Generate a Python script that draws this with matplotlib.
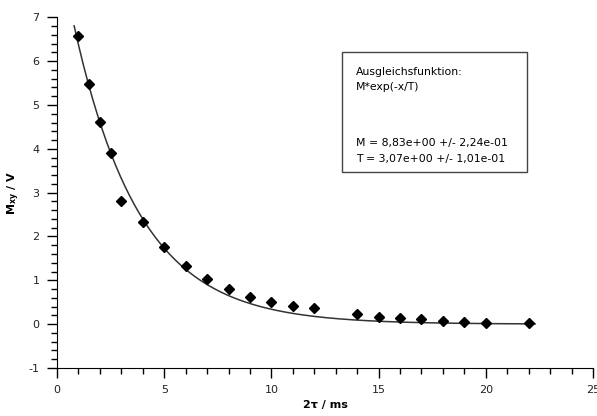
import numpy as np
import matplotlib
matplotlib.use('Agg')
import matplotlib.pyplot as plt
from matplotlib.ticker import MultipleLocator
from matplotlib.patches import Rectangle

# Messpunkte
tau2 = [1, 1.5, 2, 2.5, 3, 4, 5, 6, 7, 8, 9, 10, 11, 12, 14, 15, 16, 17, 18, 19, 20, 22]
mxy = [6.58, 5.48, 4.62, 3.91, 2.81, 2.34, 1.76, 1.32, 1.02, 0.80, 0.61, 0.50, 0.41, 0.36,
       0.24, 0.17, 0.13, 0.11, 0.08, 0.05, 0.03, 0.03]

# Fitparameter der Ausgleichsfunktion
M_fit = 8.83
T_fit = 3.07
x_fit = np.linspace(0.8, 22.3, 300)
y_fit = M_fit * np.exp(-x_fit / T_fit)

plt.rcParams['font.family'] = ['DejaVu Sans']
plt.rcParams['axes.unicode_minus'] = False

W, H = 597, 416
fig = plt.figure(figsize=(W / 100, H / 100), dpi=100)
ax = fig.add_axes([57 / W, 1 - 368 / H, (593 - 57) / W, (368 - 17.3) / H])

ax.plot(x_fit, y_fit, color='#333333', lw=1.1, zorder=2)
ax.plot(tau2, mxy, 'D', color='black', ms=5, zorder=3)

ax.set_xlim(0, 25)
ax.set_ylim(-1, 7)
ax.xaxis.set_major_locator(MultipleLocator(5))
ax.xaxis.set_minor_locator(MultipleLocator(1))
ax.yaxis.set_major_locator(MultipleLocator(1))
ax.yaxis.set_minor_locator(MultipleLocator(0.2))
ax.tick_params(which='major', length=7.5, width=1, labelsize=8, labelcolor='#222222', direction='out')
ax.tick_params(which='minor', length=4, width=1, direction='out')
ax.tick_params(axis='x', which='major', pad=5)
ax.tick_params(axis='y', which='major', pad=5)
for s in ['top', 'right']:
    ax.spines[s].set_visible(False)

ax.set_xlabel('2τ / ms', fontsize=8, fontweight='bold', labelpad=3)
ax.set_ylabel(r'$\mathbf{M}_{\mathbf{xy}}$ / V', fontsize=8, fontweight='bold', labelpad=5)

# Textkasten mit Fitergebnis
fig.patches.append(Rectangle((342 / W, 1 - 172 / H), 185 / W, 120 / H, transform=fig.transFigure,
                             fc='white', ec='#444444', lw=1, zorder=5))
box_lines = [('Ausgleichsfunktion:', 72), ('M*exp(-x/T)', 87),
             ('M = 8,83e+00 +/- 2,24e-01', 143), ('T = 3,07e+00 +/- 1,01e-01', 159)]
for txt, ypix in box_lines:
    fig.text(356 / W, 1 - ypix / H, txt, fontsize=7.8, va='center', ha='left', zorder=6)

fig.savefig('out.png', dpi=100)
